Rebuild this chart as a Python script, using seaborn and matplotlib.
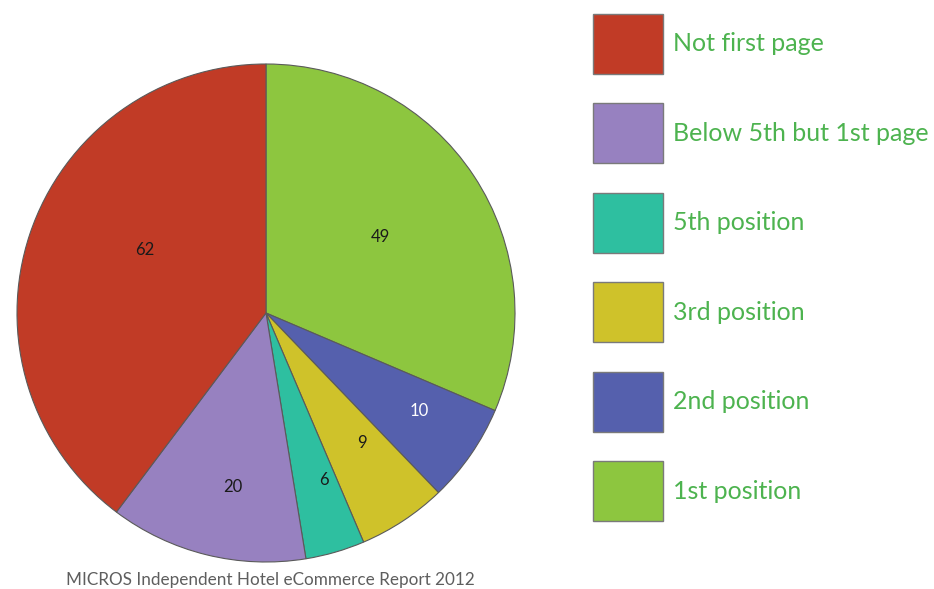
import numpy as np
import matplotlib
matplotlib.use("Agg")
import matplotlib.pyplot as plt
from matplotlib.patches import Patch
import seaborn as sns

# Search ranking of independent hotels (counts), drawn clockwise from 12 o'clock
categories = ["1st position", "2nd position", "3rd position", "5th position",
              "Below 5th but 1st page", "Not first page"]
values = [49, 10, 9, 6, 20, 62]
colors = ["#8DC63F", "#5560AD", "#CFC22A", "#2EBFA0", "#9781C0", "#C13B26"]
label_colors = ["#1a1a1a", "white", "#1a1a1a", "#1a1a1a", "#1a1a1a", "#1a1a1a"]
label_radius = [0.55, 0.73, 0.65, 0.71, 0.71, 0.55]
label_shift = [0, 2, 3, 3, 3, -9]  # degrees nudged from the wedge mid-angle
legend_order = ["Not first page", "Below 5th but 1st page", "5th position",
                "3rd position", "2nd position", "1st position"]
source = "MICROS Independent Hotel eCommerce Report 2012"

sns.set_theme(style="white")
plt.rcParams['font.family'] = ['Lato', 'DejaVu Sans']

W, H = 934, 589
fig = plt.figure(figsize=(W / 100, H / 100), dpi=100)
cx, cy, r = 266, 313, 249
ax = fig.add_axes([(cx - r) / W, (H - cy - r) / H, 2 * r / W, 2 * r / H])

wedges, _ = ax.pie(values, colors=colors, startangle=90, counterclock=False,
                   wedgeprops=dict(edgecolor="#5a5a5a", linewidth=0.8))
ax.set_xlim(-1, 1)
ax.set_ylim(-1, 1)
ax.set_aspect("equal")
ax.axis("off")

for w, v, c, rad, sh in zip(wedges, values, label_colors, label_radius, label_shift):
    mid = np.deg2rad((w.theta1 + w.theta2) / 2 + sh)
    ax.text(rad * np.cos(mid), rad * np.sin(mid), str(v), ha="center", va="center",
            fontsize=12, color=c)

handles = [wedges[categories.index(n)] for n in legend_order]
proxies = [Patch(facecolor=h.get_facecolor(), edgecolor="#7a7a7a", linewidth=1.0)
           for h in handles]
leg = fig.legend(proxies, legend_order, loc="upper left",
                 bbox_to_anchor=(593 / W, 1 - 14 / H), frameon=False,
                 fontsize=18, handlelength=2.8, handleheight=3.315,
                 labelspacing=1.18, handletextpad=0.4, borderpad=0, borderaxespad=0)
for t in leg.get_texts():
    t.set_color("#4DB34F")

fig.text(270 / W, 1 - 580 / H, source, ha="center", va="center",
         fontsize=12.3, color="#5e5e5e")

fig.savefig("out.png", dpi=100)
